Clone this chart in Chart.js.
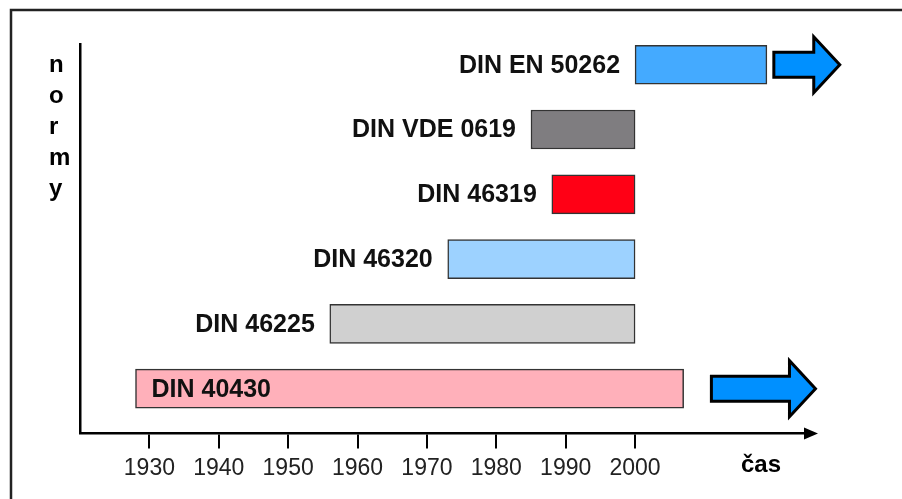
<!DOCTYPE html>
<html>
<head>
<meta charset="utf-8">
<script src="https://cdn.jsdelivr.net/npm/chart.js@4.4.1/dist/chart.umd.min.js"></script>
<style>
  html, body { margin: 0; padding: 0; background: #fff; }
  #wrap { position: relative; width: 902px; height: 499px; }
</style>
</head>
<body>
<div id="wrap"><canvas id="chart"></canvas></div>
<script>
// norms, listed top to bottom
const categories = ['DIN EN 50262', 'DIN VDE 0619', 'DIN 46319', 'DIN 46320', 'DIN 46225', 'DIN 40430']
const startYears = [2000, 1985, 1988, 1973, 1956, 1928]
const endYears = [2019, 2000, 2000, 2000, 2000, 2007]
const barColors = ['#44aaff', '#7f7d80', '#ff0015', '#9dd2ff', '#d0d0d0', '#ffb0ba']

// "still valid" arrows after some bars (null = none)
const arrowFrom = [2020, null, null, null, null, 2011]
const arrowTo = [2029.5, null, null, null, null, 2026]

const tickYears = [1930, 1940, 1950, 1960, 1970, 1980, 1990, 2000]
const yTitle = 'normy'
const xTitle = 'čas'

const FONT = '"Liberation Sans", Arial, Helvetica, sans-serif'

const decorations = {
  id: 'decorations',
  afterDatasetsDraw(chart) {
    const ctx = chart.ctx
    const xs = chart.scales.x
    const ys = chart.scales.y
    const area = chart.chartArea
    const meta = chart.getDatasetMeta(0)

    ctx.save()

    // outer frame (only top and left edge visible)
    ctx.strokeStyle = '#222'
    ctx.lineWidth = 2.5
    ctx.beginPath()
    ctx.moveTo(11, 510)
    ctx.lineTo(11, 10)
    ctx.lineTo(910, 10)
    ctx.stroke()

    // bar labels
    ctx.font = 'bold 25px ' + FONT
    ctx.fillStyle = '#111'
    ctx.textBaseline = 'middle'
    meta.data.forEach((bar, i) => {
      const left = Math.min(bar.x, bar.base)
      const w = ctx.measureText(categories[i]).width
      if (left - area.left - 20 > w) {
        ctx.textAlign = 'right'
        ctx.fillText(categories[i], left - 15, bar.y + 1)
      } else {
        ctx.textAlign = 'left'
        ctx.fillText(categories[i], left + 16, bar.y + 1)
      }
    })

    // blue arrows
    categories.forEach((c, i) => {
      if (arrowFrom[i] == null) return
      const x0 = xs.getPixelForValue(arrowFrom[i])
      const x1 = xs.getPixelForValue(arrowTo[i])
      const y = ys.getPixelForValue(i)
      const head = 26, shaft = 12.5, wing = 28
      ctx.beginPath()
      ctx.moveTo(x0, y - shaft)
      ctx.lineTo(x1 - head, y - shaft)
      ctx.lineTo(x1 - head, y - wing)
      ctx.lineTo(x1, y)
      ctx.lineTo(x1 - head, y + wing)
      ctx.lineTo(x1 - head, y + shaft)
      ctx.lineTo(x0, y + shaft)
      ctx.closePath()
      ctx.fillStyle = '#0090ff'
      ctx.fill()
      ctx.lineWidth = 3
      ctx.lineJoin = 'miter'
      ctx.strokeStyle = '#000'
      ctx.stroke()
    })

    // arrowhead at the end of the time axis
    const ax = area.right
    const ay = xs.top
    ctx.fillStyle = '#000'
    ctx.beginPath()
    ctx.moveTo(ax - 8, ay - 6)
    ctx.lineTo(ax + 6, ay)
    ctx.lineTo(ax - 8, ay + 6)
    ctx.closePath()
    ctx.fill()

    // vertical axis title, one letter per line
    ctx.font = 'bold 24px ' + FONT
    ctx.textAlign = 'left'
    ctx.textBaseline = 'alphabetic'
    yTitle.split('').forEach((ch, k) => {
      ctx.fillText(ch, 49, 72 + k * 31)
    })

    // horizontal axis title
    ctx.textAlign = 'center'
    ctx.fillText(xTitle, 761, 472)

    ctx.restore()
  }
}

new Chart(document.getElementById('chart'), {
  type: 'bar',
  data: {
    datasets: [{
      data: categories.map((c, i) => ({ y: i, x: [startYears[i], endYears[i]] })),
      backgroundColor: barColors,
      borderColor: '#333',
      borderWidth: 1.5,
      borderSkipped: false,
      barThickness: 39
    }]
  },
  options: {
    indexAxis: 'y',
    responsive: true,
    maintainAspectRatio: false,
    animation: false,
    layout: { padding: { top: 44, left: 80, right: 90, bottom: 11 } },
    plugins: {
      legend: { display: false },
      tooltip: { enabled: false }
    },
    scales: {
      x: {
        type: 'linear',
        min: 1920,
        max: 2025.5,
        afterBuildTicks: (scale) => {
          scale.ticks = tickYears.map(v => ({ value: v }))
        },
        ticks: {
          color: '#222',
          padding: 6,
          font: { family: FONT, size: 23 },
          callback: (v) => String(v)
        },
        grid: {
          display: true,
          drawOnChartArea: false,
          drawTicks: true,
          tickLength: 15,
          color: '#000',
          lineWidth: 2
        },
        border: { display: true, color: '#000', width: 2.5 }
      },
      y: {
        type: 'linear',
        reverse: true,
        offset: false,
        min: -0.32,
        max: 5.69,
        ticks: { display: false },
        grid: { display: false, drawTicks: false },
        border: { display: true, color: '#000', width: 2.5 }
      }
    }
  },
  plugins: [decorations]
})
</script>
</body>
</html>
